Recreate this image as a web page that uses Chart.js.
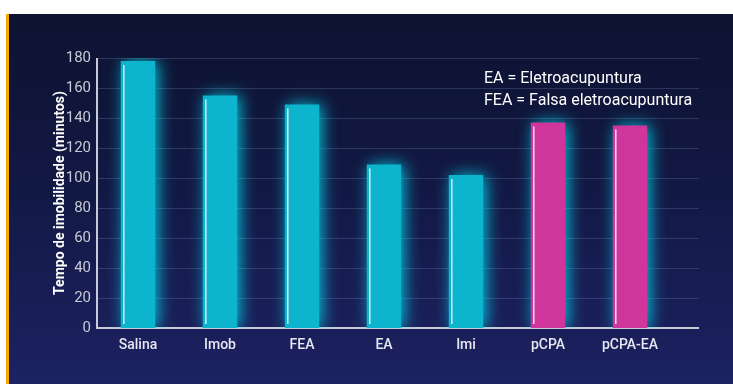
<!DOCTYPE html>
<html>
<head>
<meta charset="utf-8">
<script src="https://cdn.jsdelivr.net/npm/chart.js@4"></script>
<style>
  html, body { margin: 0; padding: 0; background: #ffffff; }
  #wrap {
    position: absolute; left: 0; top: 0; width: 733px; height: 384px;
  }
  #bg {
    position: absolute; left: 6px; top: 14px; width: 727px; height: 370px;
    border-left: 3px solid #f5a800;
    background: linear-gradient(180deg, #0d1330 0%, #121843 45%, #1d2262 100%);
  }
  canvas { position: absolute; left: 0; top: 0; }
</style>
</head>
<body>
<div id="wrap">
  <div id="bg"></div>
  <canvas id="myChart" width="733" height="384"></canvas>
</div>
<script>
const categories = ['Salina', 'Imob', 'FEA', 'EA', 'Imi', 'pCPA', 'pCPA-EA'];
const values = [178, 155, 149, 109, 102, 137, 135];
const yTicks = [0, 20, 40, 60, 80, 100, 120, 140, 160, 180];
const notes = ['EA = Eletroacupuntura', 'FEA = Falsa eletroacupuntura'];

const cyan = '#0cb4cd';
const pink = '#d0359c';

// gridlines, glow and highlight on the bars
const glowPlugin = {
  id: 'glow',
  beforeDatasetsDraw(chart) {
    const ctx = chart.ctx;
    const area = chart.chartArea;
    const y = chart.scales.y;
    ctx.save();
    ctx.strokeStyle = 'rgba(120, 130, 170, 0.3)';
    ctx.lineWidth = 1;
    yTicks.forEach(t => {
      if (t === 0) return;
      const py = Math.round(y.getPixelForValue(t)) + 0.5;
      ctx.beginPath();
      ctx.moveTo(area.left, py);
      ctx.lineTo(699, py);
      ctx.stroke();
    });
    ctx.strokeStyle = '#c9cad8';
    ctx.lineWidth = 2;
    const py0 = y.getPixelForValue(0);
    ctx.beginPath();
    ctx.moveTo(area.left - 1, py0);
    ctx.lineTo(699, py0);
    ctx.stroke();
    ctx.beginPath();
    ctx.moveTo(area.left, py0);
    ctx.lineTo(area.left, area.top);
    ctx.stroke();
    ctx.restore();
  },
  beforeDatasetDraw(chart) {
    const ctx = chart.ctx;
    ctx.save();
    ctx.shadowColor = 'rgba(0, 220, 240, 0.85)';
    ctx.shadowBlur = 16;
    ctx.shadowOffsetX = 3;
  },
  afterDatasetDraw(chart) {
    chart.ctx.restore();
  },
  afterDatasetsDraw(chart) {
    const ctx = chart.ctx;
    const meta = chart.getDatasetMeta(0);
    ctx.save();
    ctx.strokeStyle = 'rgba(255, 255, 255, 0.85)';
    ctx.lineWidth = 1.5;
    meta.data.forEach(bar => {
      const lx = bar.x - bar.width / 2 + 3;
      ctx.beginPath();
      ctx.moveTo(lx, bar.y + 4);
      ctx.lineTo(lx, bar.base - 4);
      ctx.stroke();
    });
    ctx.fillStyle = '#ffffff';
    ctx.font = '16px Roboto';
    ctx.textBaseline = 'alphabetic';
    ctx.fillText(notes[0], 484, 83);
    ctx.fillText(notes[1], 484, 105);
    ctx.restore();
  }
};

new Chart('myChart', {
  type: 'bar',
  data: {
    labels: categories,
    datasets: [{
      data: values,
      backgroundColor: (c) => c.dataIndex >= 5 ? pink : cyan,
      borderWidth: 0,
      barPercentage: 0.84,
      categoryPercentage: 0.5
    }]
  },
  options: {
    responsive: false,
    animation: false,
    layout: { padding: { left: 44, right: 62, top: 58, bottom: 0 } },
    plugins: { legend: { display: false }, tooltip: { enabled: false } },
    scales: {
      x: {
        grid: { display: false, drawTicks: false },
        border: { display: false },
        ticks: {
          color: '#e6e7f0',
          font: { family: 'Roboto', size: 14, weight: '500' },
          padding: 9
        },
        afterFit(scale) { scale.height = 56; }
      },
      y: {
        min: 0,
        max: 180,
        afterBuildTicks(scale) { scale.ticks = yTicks.map(v => ({ value: v })); },
        grid: { display: false, drawTicks: false },
        border: { display: false },
        ticks: {
          color: '#c8c9d6',
          font: { family: 'Roboto', size: 15 },
          padding: 6
        },
        title: {
          display: true,
          text: 'Tempo de imobilidade (minutos)',
          color: '#ffffff',
          font: { family: 'Roboto', size: 14, weight: 'bold' },
          padding: { top: 8, bottom: 0 }
        },
        afterFit(scale) { scale.width = 53; }
      }
    }
  },
  plugins: [glowPlugin]
});
</script>
</body>
</html>
